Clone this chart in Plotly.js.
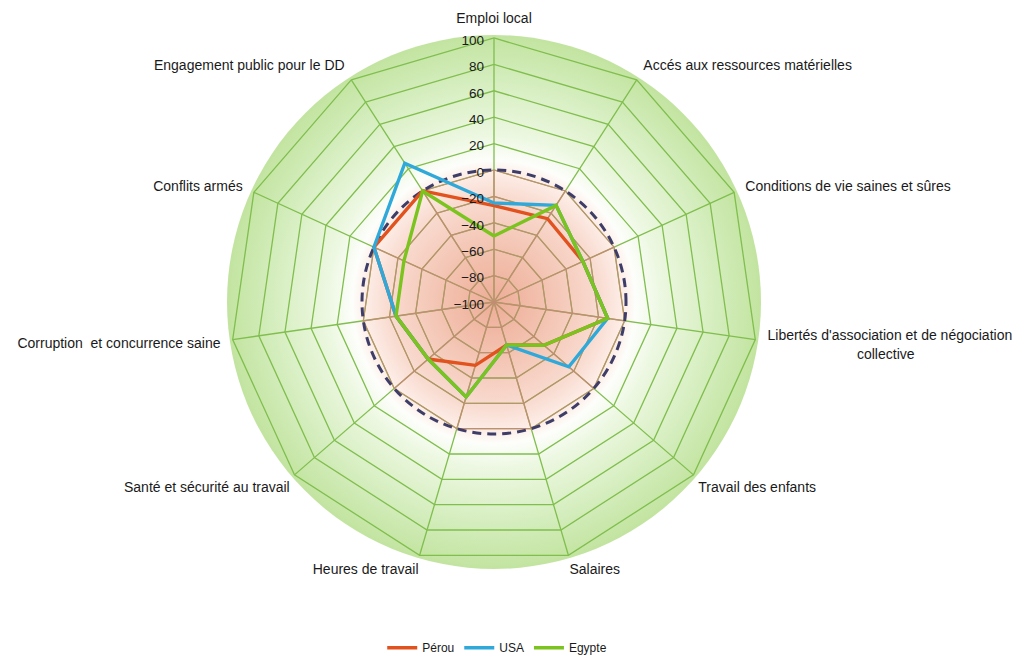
<!DOCTYPE html>
<html>
<head>
<meta charset="utf-8">
<script src="https://cdn.plot.ly/plotly-3.0.1.min.js"></script>
<style>
html,body{margin:0;padding:0;background:#fff;}
#chart{width:1021px;height:658px;}
</style>
</head>
<body>
<div id="chart"></div>
<script>
// ---- Data ----
var NB = '\u00a0';
var categories = [
  'Emploi local',
  'Accés aux ressources matérielles',
  'Conditions de vie saines et sûres',
  "Libertés d'association et de négociation<br>" + NB.repeat(23) + 'collective',
  'Travail des enfants',
  'Salaires',
  'Heures de travail',
  'Santé et sécurité au travail',
  'Corruption  et concurrence saine',
  'Conflits armés',
  'Engagement public pour le DD'
];
var seriesNames = ['Pérou', 'USA', 'Egypte'];
var perou  = [-27, -25, -26, -13, -50, -66, -50, -34, -25, 0, 0];
var usa    = [-25, -13, -26, -13, -25, -66, -25, -34, -25, 0, 25];
var egypte = [-50, -13, -26, -13, -50, -66, -25, -34, -25, -25, 0];
var radialTicks = [-100, -80, -60, -40, -20, 0, 20, 40, 60, 80, 100];
var innerTicks = [-80, -60, -40, -20];
var zeroLine = [0];

// label groups (placement distance from the outer polygon)
var labelsFar = [categories[0], categories[1], categories[2], categories[3], categories[8], categories[9], categories[10]];
var labelsMid = [categories[4], categories[7]];
var labelsNear = [categories[5], categories[6]];

var colors = ['#E1521E', '#2FA8DA', '#7BC41E'];
var FONT = '"Liberation Sans Narrow", "Arial Narrow", "Liberation Sans", Arial, sans-serif';

// ---- Geometry (pixels) ----
var W = 1021, H = 658;
var cx = 494, cy = 302, R = 264, discR = 267;
function dom(r) {
  return {
    x: [(cx - r) / W, (cx + r) / W],
    y: [(H - cy - r) / H, (H - cy + r) / H]
  };
}

function close(a) { return a.concat([a[0]]); }

var traces = [];
// placeholder traces so that grid/label-only subplots are drawn
['polar', 'polar2', 'polar3', 'polar5', 'polar6', 'polar7'].forEach(function (sp) {
  traces.push({type: 'scatterpolar', r: [], theta: [], subplot: sp,
    showlegend: false, hoverinfo: 'skip', mode: 'lines'});
});
[perou, usa, egypte].forEach(function (vals, i) {
  traces.push({
    type: 'scatterpolar',
    subplot: 'polar4',
    name: seriesNames[i],
    r: close(vals),
    theta: close(categories),
    mode: 'lines',
    line: {color: colors[i], width: 3.4},
    cliponaxis: false
  });
});

var green = '#80BE4E', brown = '#C58B74';

var baseAngular = {
  type: 'category',
  categoryarray: categories,
  direction: 'clockwise',
  rotation: 90
};
var tickFont = {family: FONT, size: 14, color: '#1a1a1a'};
function labelPolar(list, len) {
  return {
    domain: dom(R), bgcolor: 'rgba(0,0,0,0)', gridshape: 'linear',
    radialaxis: {range: [-100, 100], visible: false, angle: 90},
    angularaxis: Object.assign({}, baseAngular, {
      showticklabels: true, tickmode: 'array', tickvals: list, ticktext: list,
      ticks: 'outside', ticklen: len, tickcolor: 'rgba(0,0,0,0)', tickfont: tickFont,
      showgrid: false, showline: false
    })
  };
}

var bgSvg = '<svg xmlns="http://www.w3.org/2000/svg" width="534" height="534" viewBox="0 0 534 534">' +
  '<defs><radialGradient id="g" cx="50%" cy="50%" r="50%">' +
  '<stop offset="0" stop-color="#EDAD96"/>' +
  '<stop offset="0.2" stop-color="#F3C3B1"/>' +
  '<stop offset="0.4" stop-color="#F9DCD1"/>' +
  '<stop offset="0.49" stop-color="#FDEFE9"/>' +
  '<stop offset="0.53" stop-color="#FDFEFB"/>' +
  '<stop offset="0.62" stop-color="#EDF8E2"/>' +
  '<stop offset="0.8" stop-color="#D8EFC3"/>' +
  '<stop offset="1" stop-color="#C2E4A0"/>' +
  '</radialGradient></defs>' +
  '<circle cx="267" cy="267" r="267" fill="url(#g)"/></svg>';

var layout = {
  width: W, height: H,
  margin: {l: 0, r: 0, t: 0, b: 0, autoexpand: false},
  paper_bgcolor: '#ffffff',
  font: {family: FONT, size: 14, color: '#1a1a1a'},
  showlegend: true,
  legend: {orientation: 'h', x: 0.487, xanchor: 'center', y: 0.0155, yanchor: 'middle',
    font: {family: FONT, size: 12, color: '#1a1a1a'}, bgcolor: 'rgba(0,0,0,0)', itemwidth: 30},
  images: [{
    source: 'data:image/svg+xml;charset=utf-8,' + encodeURIComponent(bgSvg),
    xref: 'paper', yref: 'paper',
    x: (cx - discR) / W, y: (H - cy + discR) / H,
    sizex: 2 * discR / W, sizey: 2 * discR / H,
    xanchor: 'left', yanchor: 'top', sizing: 'stretch', layer: 'below'
  }],
  polar: {
    domain: dom(R), bgcolor: 'rgba(0,0,0,0)', gridshape: 'linear',
    radialaxis: {range: [-100, 100], tickvals: radialTicks, showticklabels: false,
      showline: false, ticks: '', gridcolor: green, gridwidth: 1.3, angle: 90},
    angularaxis: Object.assign({}, baseAngular, {showticklabels: false, ticks: '',
      gridcolor: green, gridwidth: 1.3, linecolor: green, linewidth: 1.3, showline: true})
  },
  polar2: {
    domain: dom(R / 2), bgcolor: 'rgba(0,0,0,0)', gridshape: 'linear',
    radialaxis: {range: [-100, 0], tickvals: innerTicks, showticklabels: false,
      showline: false, ticks: '', gridcolor: brown, gridwidth: 1.1, angle: 90},
    angularaxis: Object.assign({}, baseAngular, {showticklabels: false, ticks: '',
      gridcolor: brown, gridwidth: 1.3, linecolor: brown, linewidth: 1.1, showline: true})
  },
  polar3: {
    domain: dom(R), bgcolor: 'rgba(0,0,0,0)', gridshape: 'circular',
    radialaxis: {range: [-100, 100], tickvals: zeroLine, showticklabels: false,
      showline: false, ticks: '', gridcolor: '#3E3D68', gridwidth: 3, griddash: '9px,6px', angle: 90},
    angularaxis: Object.assign({}, baseAngular, {showticklabels: false, ticks: '',
      showgrid: false, showline: false})
  },
  polar4: {
    domain: dom(R), bgcolor: 'rgba(0,0,0,0)', gridshape: 'linear',
    radialaxis: {range: [-100, 100], tickvals: radialTicks, showticklabels: true,
      showgrid: false, showline: false, ticks: '', angle: 90, side: 'counterclockwise',
      tickfont: {family: FONT, size: 13.5, color: '#1a1a1a'}},
    angularaxis: Object.assign({}, baseAngular, {showticklabels: false, ticks: '',
      showgrid: false, showline: false})
  },
  polar5: labelPolar(labelsFar, 9),
  polar6: labelPolar(labelsMid, 3),
  polar7: labelPolar(labelsNear, 0.5)
};

Plotly.newPlot('chart', traces, layout, {displayModeBar: false, staticPlot: true});
</script>
</body>
</html>
